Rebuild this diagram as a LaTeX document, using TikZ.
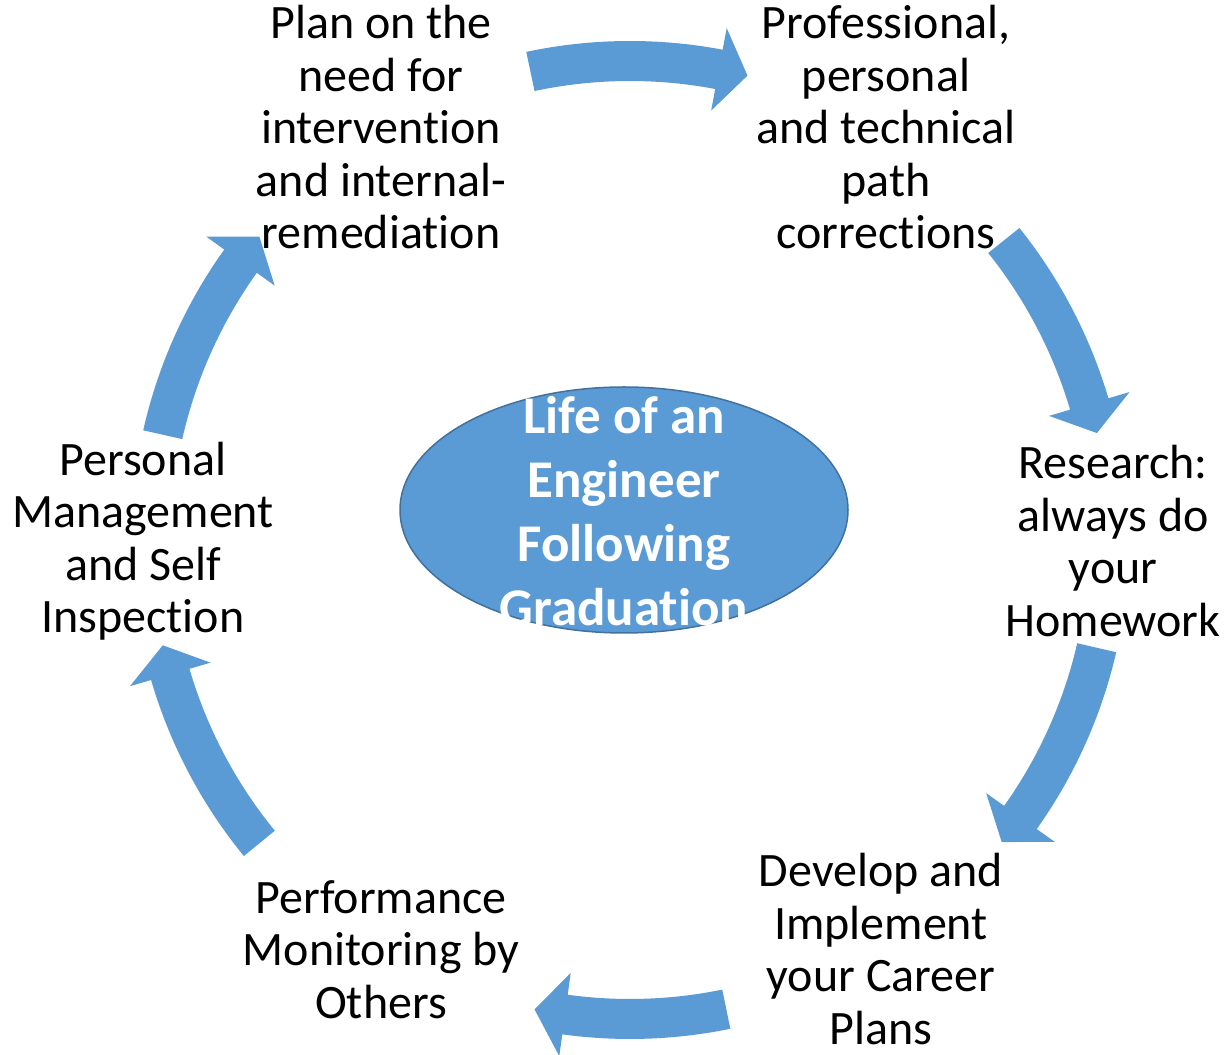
\documentclass[tikz,border=0pt]{standalone}
\usepackage{fontspec}
\setmainfont{Carlito}[Ligatures=NoCommon]
\usetikzlibrary{calc,shapes.geometric}
\definecolor{accent}{HTML}{5B9BD5}
\definecolor{accentdark}{HTML}{41719C}
\tikzset{
  lbl/.style={align=center, inner sep=0pt, font=\fontsize{48}{52.5}\selectfont, text=black},
  hub/.style={ellipse, draw=accentdark, line width=1.5pt, fill=accent, minimum width=448pt, minimum height=246pt, inner sep=0pt},
  hubtext/.style={align=center, inner sep=0pt, text=white, font=\bfseries\fontsize{53}{64}\selectfont},
  cyc/.style={fill=accent}
}
% #1 start angle, #2 head base angle, #3 tip angle
\newcommand\cycarrow[3]{%
  \fill[cyc] ($(C)+(#1:499pt)$) arc[start angle=#1, end angle=#2, radius=499pt]
    -- ($(C)+(#2:521pt)$) -- ($(C)+(#3:479pt)$) -- ($(C)+(#2:437pt)$)
    -- ($(C)+(#2:459pt)$) arc[start angle=#2, end angle=#1, radius=459pt] -- cycle;}
\begin{document}
\begin{tikzpicture}[x=1pt,y=1pt]
\useasboundingbox (0,0) rectangle (1227,1055);
\coordinate (C) at (630,515);
% arrows
\cycarrow{102}{79.3}{75.8}
\cycarrow{38.7}{16.5}{12.9}
\cycarrow{-13}{-35.4}{-39.1}
\cycarrow{-78.4}{-97.8}{-101.5}
\cycarrow{-140.7}{-163.7}{-167.3}
\cycarrow{167.3}{144.4}{140.7}
% hub
\node[hub] (hub) at (624,545) {};
\node[hubtext] (hubt) at (624,544) {Life of an\\Engineer\\Following\\Graduation};
% labels
\node[lbl] (plan) at (381,927.5) {Plan on the\\need for\\intervention\\and internal-\\remediation};
\node[lbl] (prof) at (886,927.5) {Professional,\\personal\\and technical\\path\\corrections};
\node[lbl] (res) at (1113,514) {Research:\\always do\\your\\Homework};
\node[lbl] (dev) at (881,106) {Develop and\\Implement\\your Career\\Plans};
\node[lbl] (perf) at (381,105.5) {Performance\\Monitoring by\\Others};
\node[lbl] (pers) at (143,514) {Personal\\Management\\and Self\\Inspection};
\end{tikzpicture}
\end{document}
